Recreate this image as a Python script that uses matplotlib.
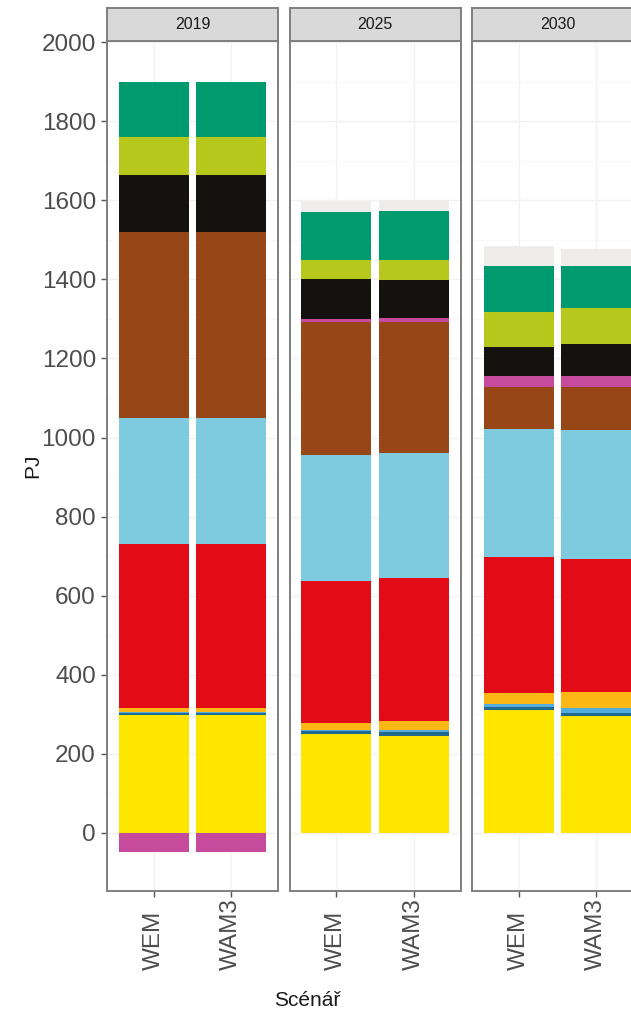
import numpy as np
import matplotlib.pyplot as plt
import matplotlib.transforms as mtransforms

plt.rcParams['font.family'] = ['Liberation Sans', 'DejaVu Sans']

years = ["2019", "2025", "2030"]
scenarios = ["WEM", "WAM3"]

# PJ, per column: 2019 WEM, 2019 WAM3, 2025 WEM, 2025 WAM3, 2030 WEM, 2030 WAM3
# stacked bottom -> top
jadro = [297, 297, 251, 246, 311, 295]
voda = [6, 6, 6, 8, 8, 8]
vitr = [2, 2, 4, 7, 6, 12]
slunce = [12, 12, 17, 22, 28, 41]
ropa = [414, 414, 360, 361, 344, 337]
plyn = [318, 318, 319, 317, 324, 327]
hnede_uhli = [470, 470, 336, 332, 106, 109]
elektrina = [-48, -48, 8, 10, 28, 27]
cerne_uhli = [145, 145, 100, 96, 75, 80]
biopaliva = [97, 97, 49, 51, 88, 91]
biomasa = [138, 138, 121, 123, 116, 107]
ostatni = [0, 0, 28, 27, 51, 42]

series = [jadro, voda, vitr, slunce, ropa, plyn, hnede_uhli,
          elektrina, cerne_uhli, biopaliva, biomasa, ostatni]
colors = ["#FFE600", "#1F6A8E", "#52ACDD", "#FDB714", "#E20B16", "#7ECADF",
          "#974618", "#C64B9C", "#14120F", "#B7C81D", "#009A6F", "#EFECEC"]

W, H = 631, 1015
fig = plt.figure(figsize=(W / 100, H / 100), dpi=100)

lefts = [107, 289.5, 472]
pw = 171
border = "#7F7F7F"

for i, year in enumerate(years):
    l = lefts[i]
    ax = fig.add_axes([l / W, 1 - 891 / H, pw / W, 850 / H])
    st = fig.add_axes([l / W, 1 - 41 / H, pw / W, 33 / H])

    x = np.arange(len(scenarios))
    pos = np.zeros(len(scenarios))
    neg = np.zeros(len(scenarios))
    for vals, c in zip(series, colors):
        v = np.array(vals[2 * i:2 * i + 2], dtype=float)
        vp = np.where(v > 0, v, 0)
        vn = np.where(v < 0, v, 0)
        ax.bar(x, vp, 0.9, bottom=pos, color=c, linewidth=0, zorder=3)
        ax.bar(x, vn, 0.9, bottom=neg, color=c, linewidth=0, zorder=3)
        pos += vp
        neg += vn

    ax.set_xlim(-0.6, 1.6)
    ax.set_ylim(-147, 2003)
    ax.set_yticks(np.arange(0, 2001, 200))
    ax.set_yticks(np.arange(100, 2001, 200), minor=True)
    ax.set_xticks(x)
    ax.set_xticklabels([])
    # rotated labels share a common baseline (text start) below the panel
    tr = mtransforms.blended_transform_factory(ax.transData, fig.transFigure)
    for xi, lab in zip(x, scenarios):
        ax.text(xi, 1 - 970 / H, lab, rotation=90, ha="center", va="bottom",
                fontsize=17.5, color="#4D4D4D", transform=tr, clip_on=False)
    ax.grid(True, which="major", color="#F1F1F1", linewidth=1.0, zorder=0)
    ax.grid(True, which="minor", axis="y", color="#F8F8F8", linewidth=0.6, zorder=0)
    ax.set_axisbelow(True)
    ax.tick_params(axis="x", length=4, width=1, color="#555555")
    ax.tick_params(axis="y", which="major", length=4, width=1, color="#555555",
                   pad=4, labelsize=17.5, labelcolor="#4D4D4D")
    ax.tick_params(axis="y", which="minor", length=0)
    if i > 0:
        ax.tick_params(axis="y", which="major", length=0, labelleft=False)
    for s in ax.spines.values():
        s.set_color(border)
        s.set_linewidth(1.4)

    st.set_facecolor("#D9D9D9")
    st.set_xticks([])
    st.set_yticks([])
    for s in st.spines.values():
        s.set_color(border)
        s.set_linewidth(1.4)
    st.text(0.5, 0.5, year, ha="center", va="center", fontsize=11.5,
            color="#1A1A1A", transform=st.transAxes)

fig.text(33 / W, 1 - 466 / H, "PJ", rotation=90, ha="center", va="center",
         fontsize=15, color="#1A1A1A")
fig.text(307 / W, 1 - 1001 / H, "Scénář", ha="center", va="center",
         fontsize=15, color="#1A1A1A")

fig.savefig("out.png", dpi=100)
